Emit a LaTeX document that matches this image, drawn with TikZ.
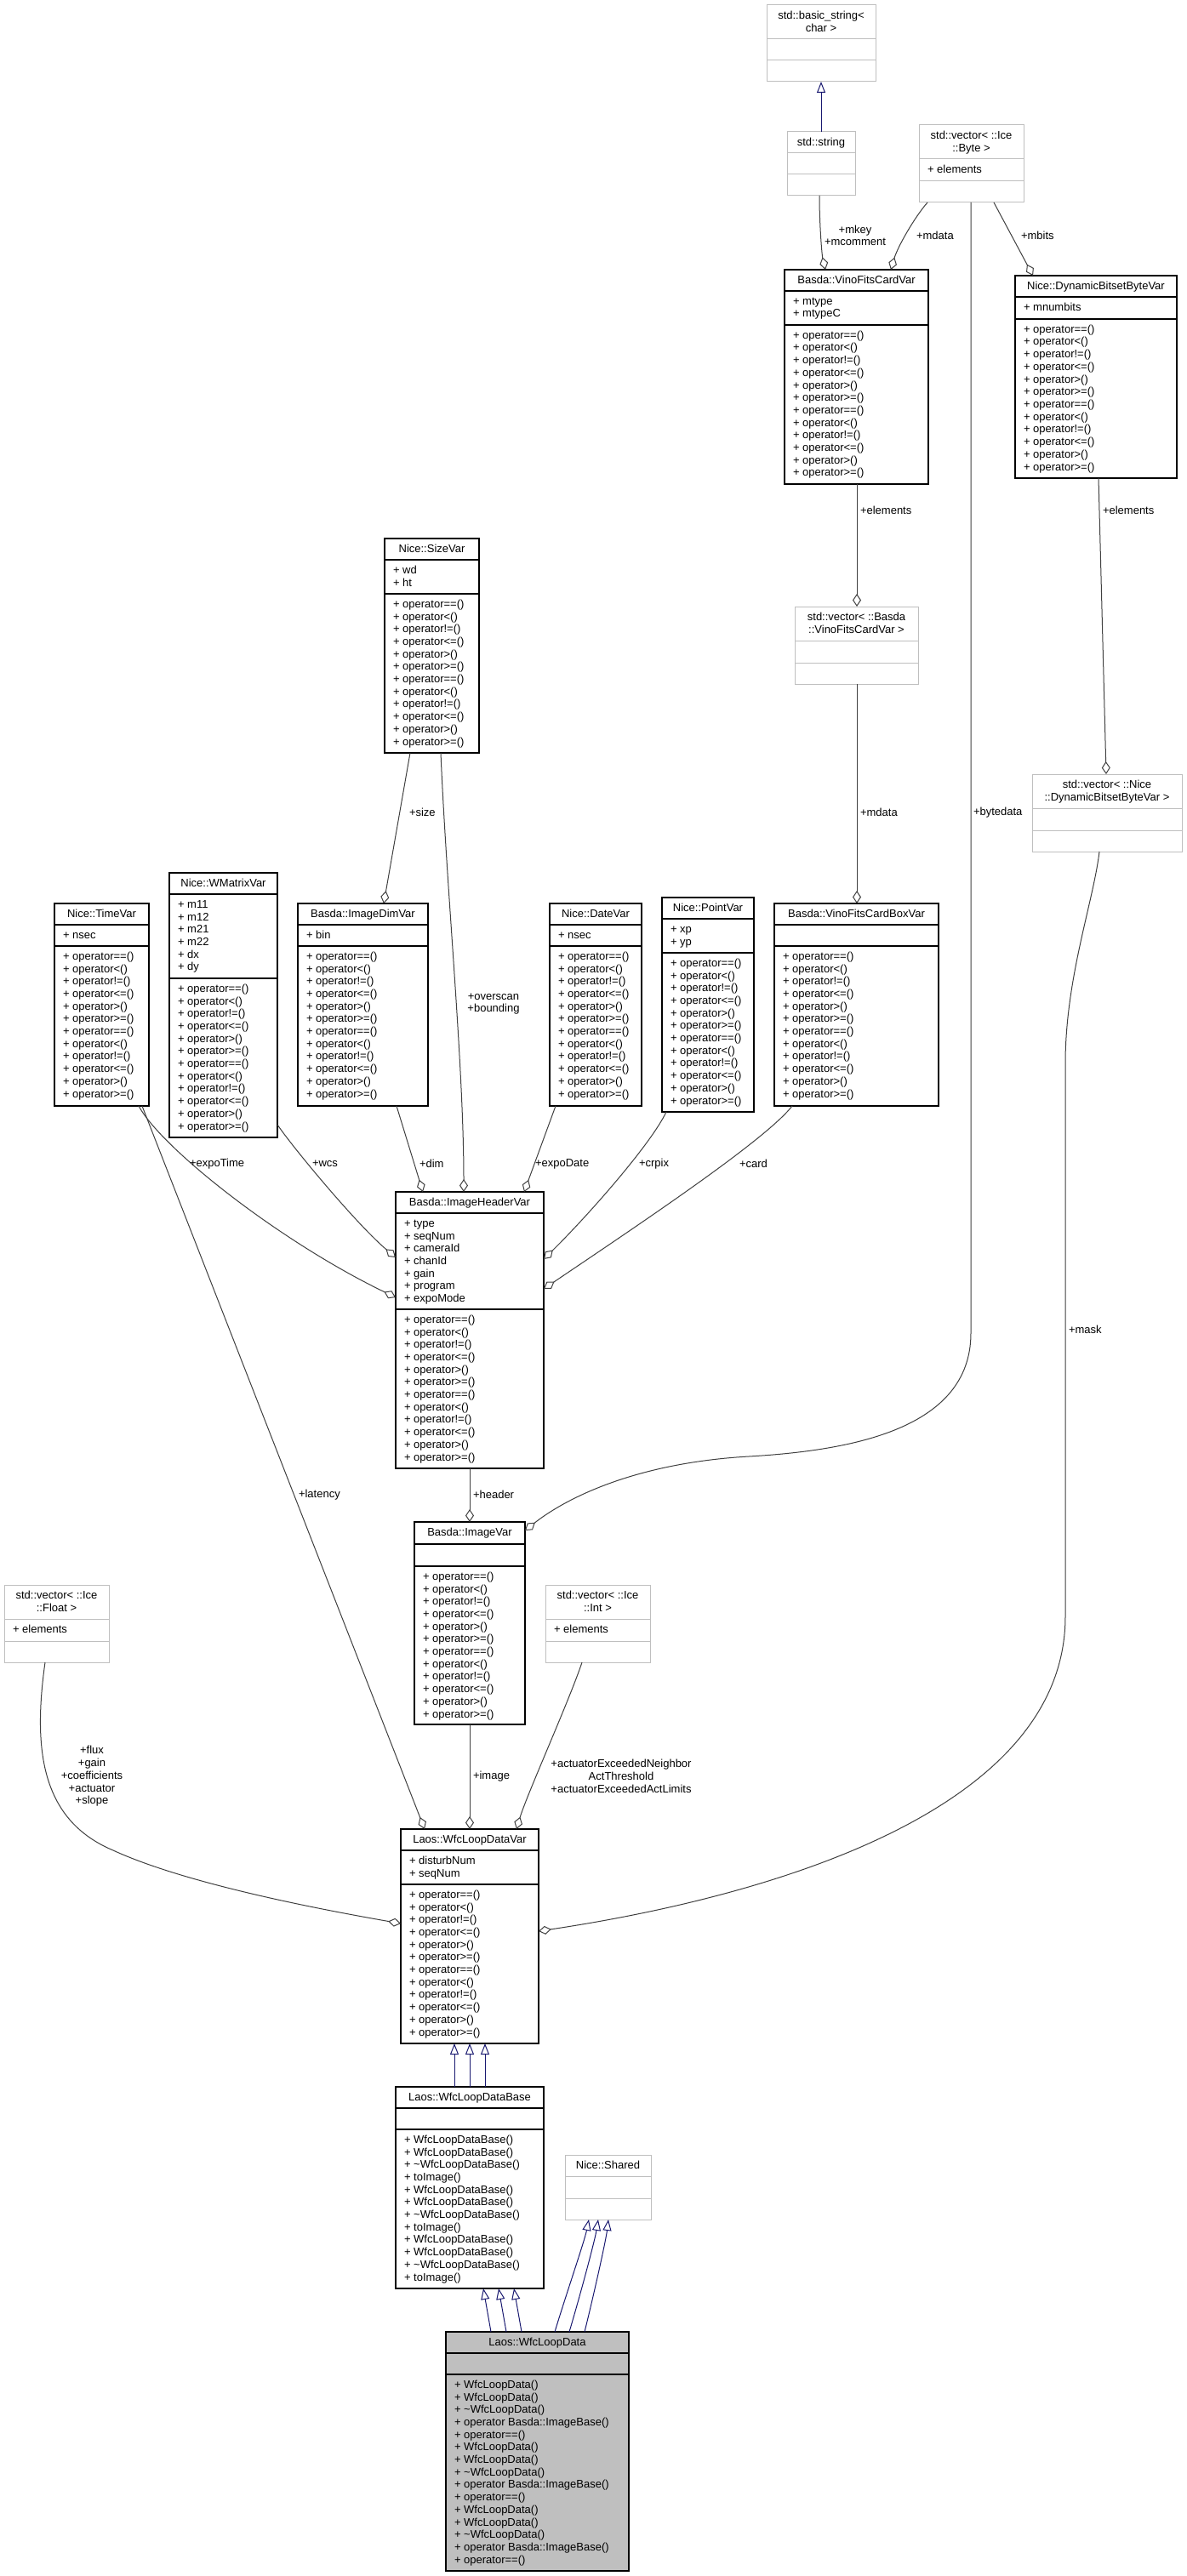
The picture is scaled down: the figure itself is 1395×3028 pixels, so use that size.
\documentclass[tikz,border=0pt]{standalone}
\usepackage{fontspec}
\setmainfont{Liberation Sans}
\usetikzlibrary{arrows.meta,calc}
\definecolor{edgec}{HTML}{404040}
\definecolor{inhc}{HTML}{191970}
\definecolor{grayb}{HTML}{BFBFBF}
\definecolor{selfill}{HTML}{BFBFBF}
\tikzset{
 txt/.style={inner sep=0,outer sep=0,font=\fontsize{6.5}{7.35}\selectfont,text=black},
 blk box/.style={draw=black,line width=0.6pt,fill=white},
 blk sep/.style={draw=black,line width=0.6pt},
 gry box/.style={draw=grayb,line width=0.5pt,fill=white},
 gry sep/.style={draw=grayb,line width=0.5pt},
 sel box/.style={draw=black,line width=0.6pt,fill=selfill},
 sel sep/.style={draw=black,line width=0.6pt},
 agg/.style={draw=edgec,line width=0.5pt,-{Diamond[open,length=7.5pt,width=5pt,line width=0.5pt]}},
 inh/.style={draw=inhc,line width=0.5pt,-{Triangle[open,length=6.5pt,width=5pt,line width=0.5pt]}},
 lbl/.style={txt},
}
% #1 name, #2 style, #3 x, #4 y, #5 w, #6 h1, #7 h2, #8 h3, #9 title list (double braces)
\newcommand\umlbox[9]{%
 \node[#2 box,anchor=north west,inner sep=0,outer sep=0,minimum width={#5*0.5pt},minimum height={(#6+#7+#8)*0.5pt}] (#1) at (#3,#4) {};
 \draw[#2 sep] (#3,#4+#6) -- (#3+#5,#4+#6);
 \draw[#2 sep] (#3,#4+#6+#7) -- (#3+#5,#4+#6+#7);
 \coordinate (#1-a) at (#3+10,#4+#6+16.3);
 \coordinate (#1-m) at (#3+10,#4+#6+#7+16.3);
 \foreach \t [count=\i] in #9 {\node[txt,anchor=base] (#1-t\i) at ({#3+#5/2},{#4+16.5+14.7*(\i-1)}) {\t};}
}
\newcommand\umlrows[3]{%
 \foreach \t [count=\i] in #3 {\node[txt,anchor=base west] (#1-#2\i) at ($(#1-#2)+(0,{14.7*(\i-1)})$) {\t};}
}
\def\ops{+ operator==(),+ operator<(),+ operator!=(),+ operator<=(),+ operator>(),+ operator>=(),+ operator==(),+ operator<(),+ operator!=(),+ operator<=(),+ operator>(),+ operator>=()}
\def\basem{+ WfcLoopDataBase(),+ WfcLoopDataBase(),+ \textasciitilde{}WfcLoopDataBase(),+ toImage(),+ WfcLoopDataBase(),+ WfcLoopDataBase(),+ \textasciitilde{}WfcLoopDataBase(),+ toImage(),+ WfcLoopDataBase(),+ WfcLoopDataBase(),+ \textasciitilde{}WfcLoopDataBase(),+ toImage()}
\def\wldm{+ WfcLoopData(),+ WfcLoopData(),+ \textasciitilde{}WfcLoopData(),+ operator Basda::ImageBase(),+ operator==(),+ WfcLoopData(),+ WfcLoopData(),+ \textasciitilde{}WfcLoopData(),+ operator Basda::ImageBase(),+ operator==(),+ WfcLoopData(),+ WfcLoopData(),+ \textasciitilde{}WfcLoopData(),+ operator Basda::ImageBase(),+ operator==()}
\begin{document}
\begin{tikzpicture}[x=0.5pt,y=-0.5pt]
\fill[white] (0,0) rectangle (1395,3028);
\useasboundingbox (0,0) rectangle (1395,3028);

% gray (external) classes
\umlbox{bstr}{gry}{901}{6}{128}{40}{25}{25}{{std::basic\_string<,char >}}
\umlbox{str}{gry}{925}{155}{80}{25}{25}{25}{{std::string}}
\umlbox{vbyte}{gry}{1080}{147}{123}{40}{26}{25}{{std::vector< ::Ice,::Byte >}}
\umlrows{vbyte}{a}{{+ elements}}
\umlbox{vvfcv}{gry}{934}{713}{145}{40}{26}{25}{{std::vector< ::Basda,::VinoFitsCardVar >}}
\umlbox{vdbbv}{gry}{1213}{910}{176}{40}{26}{25}{{std::vector< ::Nice,::DynamicBitsetByteVar >}}
\umlbox{vfloat}{gry}{5}{1863}{123}{40}{26}{25}{{std::vector< ::Ice,::Float >}}
\umlrows{vfloat}{a}{{+ elements}}
\umlbox{vint}{gry}{641}{1863}{123}{40}{26}{25}{{std::vector< ::Ice,::Int >}}
\umlrows{vint}{a}{{+ elements}}
\umlbox{shared}{gry}{664}{2533}{101}{25}{26}{25}{{Nice::Shared}}

% documented classes
\umlbox{vfcv}{blk}{922}{317}{169}{25}{40}{187}{{Basda::VinoFitsCardVar}}
\umlrows{vfcv}{a}{{+ mtype,+ mtypeC}}
\umlrows{vfcv}{m}{\ops}
\umlbox{dbbv}{blk}{1193}{324}{190}{25}{26}{187}{{Nice::DynamicBitsetByteVar}}
\umlrows{dbbv}{a}{{+ mnumbits}}
\umlrows{dbbv}{m}{\ops}
\umlbox{sizev}{blk}{452}{633}{111}{25}{40}{187}{{Nice::SizeVar}}
\umlrows{sizev}{a}{{+ wd,+ ht}}
\umlrows{sizev}{m}{\ops}
\umlbox{timev}{blk}{64}{1062}{111}{25}{25}{188}{{Nice::TimeVar}}
\umlrows{timev}{a}{{+ nsec}}
\umlrows{timev}{m}{\ops}
\umlbox{wmat}{blk}{199}{1026}{127}{25}{99}{187}{{Nice::WMatrixVar}}
\umlrows{wmat}{a}{{+ m11,+ m12,+ m21,+ m22,+ dx,+ dy}}
\umlrows{wmat}{m}{\ops}
\umlbox{idim}{blk}{350}{1062}{153}{25}{25}{188}{{Basda::ImageDimVar}}
\umlrows{idim}{a}{{+ bin}}
\umlrows{idim}{m}{\ops}
\umlbox{datev}{blk}{646}{1062}{108}{25}{25}{188}{{Nice::DateVar}}
\umlrows{datev}{a}{{+ nsec}}
\umlrows{datev}{m}{\ops}
\umlbox{pointv}{blk}{778}{1055}{108}{25}{40}{187}{{Nice::PointVar}}
\umlrows{pointv}{a}{{+ xp,+ yp}}
\umlrows{pointv}{m}{\ops}
\umlbox{vfcbv}{blk}{910}{1062}{193}{25}{25}{188}{{Basda::VinoFitsCardBoxVar}}
\umlrows{vfcbv}{m}{\ops}
\umlbox{ihv}{blk}{465}{1401}{174}{25}{113}{187}{{Basda::ImageHeaderVar}}
\umlrows{ihv}{a}{{+ type,+ seqNum,+ cameraId,+ chanId,+ gain,+ program,+ expoMode}}
\umlrows{ihv}{m}{\ops}
\umlbox{imgv}{blk}{487}{1789}{130}{26}{26}{186}{{Basda::ImageVar}}
\umlrows{imgv}{m}{\ops}
\umlbox{wldv}{blk}{471}{2150}{162}{25}{40}{187}{{Laos::WfcLoopDataVar}}
\umlrows{wldv}{a}{{+ disturbNum,+ seqNum}}
\umlrows{wldv}{m}{\ops}
\umlbox{wldb}{blk}{465}{2453}{174}{25}{25}{187}{{Laos::WfcLoopDataBase}}
\umlrows{wldb}{m}{\basem}
\umlbox{wld}{sel}{524}{2741}{215}{25}{25}{231}{{Laos::WfcLoopData}}
\umlrows{wld}{m}{\wldm}

% inheritance
\draw[inh] ($(str.north west)+(40,0)$) -- ($(bstr.south west)+(64,0)$);
\foreach \k in {0,1,2} {
 \draw[inh] ($(wldb.north west)+({69+18*\k},0)$) -- ($(wldv.south west)+({63+18*\k},0)$);
 \draw[inh] ($(wld.north west)+({53+18*\k},0)$) -- ($(wldb.south west)+({103+18*\k},0)$);
}
\draw[inh] ($(wld.north west)+(128,0)$) .. controls +(12,-40) and +(-5,25) .. ($(shared.south west)+(28,0)$);
\draw[inh] ($(wld.north west)+(145,0)$) .. controls +(12,-40) and +(-4,25) .. ($(shared.south west)+(39,0)$);
\draw[inh] ($(wld.north west)+(163,0)$) .. controls +(10,-40) and +(-3,25) .. ($(shared.south west)+(51,0)$);

% aggregation connectors
\draw[agg] ($(str.south west)+(38,0)$) .. controls +(0,35) and +(-4,-17) .. ($(vfcv.north west)+(48,0)$);
\node[lbl,align=center] (l-mkey) at (1005,277) {+mkey\\+mcomment};
\draw[agg] ($(vbyte.south west)+(10,0)$) .. controls +(-15,17) and +(8,-27) .. ($(vfcv.north west)+(125,0)$);
\node[lbl,anchor=west] (l-mdata1) at (1077,277) {+mdata};
\draw[agg] ($(vbyte.south west)+(88,0)$) -- ($(dbbv.north west)+(21,0)$);
\node[lbl,anchor=west] (l-mbits) at (1200,277) {+mbits};
\coordinate (bd1) at (1141,1567);
\coordinate (bd2) at (880,1712);
\draw[agg] ($(vbyte.south west)+(61,0)$) -- (bd1) .. controls (1141,1680) and (1000,1705) .. (bd2) .. controls (740,1720) and (660,1765) .. ($(imgv.north east)+(0,10)$);
\node[lbl,anchor=west] (l-bytedata) at (1144,955) {+bytedata};
\draw[agg] ($(vfcv.south west)+(85,0)$) -- ($(vvfcv.north west)+(73,0)$);
\node[lbl,anchor=west] (l-el1) at (1011,600) {+elements};
\draw[agg] ($(dbbv.south west)+(98,0)$) -- ($(vdbbv.north west)+(87,0)$);
\node[lbl,anchor=west] (l-el2) at (1296,600) {+elements};
\draw[agg] ($(vvfcv.south west)+(73,0)$) -- ($(vfcbv.north west)+(97,0)$);
\node[lbl,anchor=west] (l-mdata2) at (1011,955) {+mdata};
\coordinate (mk1) at (1252,1250);
\coordinate (mk2) at (1252,1900);
\draw[agg] ($(vdbbv.south west)+(79,0)$) .. controls (1285,1060) and (1252,1150) .. (mk1) -- (mk2) .. controls (1252,2130) and (900,2230) .. ($(wldv.north east)+(0,120)$);
\node[lbl,anchor=west] (l-mask) at (1256,1563) {+mask};
\draw[agg] ($(sizev.south west)+(30,0)$) -- ($(idim.north west)+(101,0)$);
\node[lbl,anchor=west] (l-size) at (481,955) {+size};
\draw[agg] ($(sizev.south west)+(66,0)$) .. controls +(7,165) and +(0,-150) .. ($(ihv.north west)+(80,0)$);
\node[lbl,align=center] (l-overscan) at (580,1180) {+overscan\\+bounding};
\draw[agg] ($(timev.south west)+(99,0)$) .. controls (190,1350) and (330,1460) .. ($(ihv.north west)+(0,124)$);
\node[lbl,anchor=west] (l-expotime) at (223,1368) {+expoTime};
\draw[agg] ($(wmat.north east)+(0,296)$) .. controls (345,1350) and (420,1440) .. ($(ihv.north west)+(0,77)$);
\node[lbl,anchor=west] (l-wcs) at (367,1368) {+wcs};
\draw[agg] ($(idim.south west)+(116,0)$) -- ($(ihv.north west)+(32,0)$);
\node[lbl,anchor=west] (l-dim) at (493,1368) {+dim};
\draw[agg] ($(datev.south west)+(7,0)$) -- ($(ihv.north west)+(151,0)$);
\node[lbl,anchor=west] (l-expodate) at (629,1368) {+expoDate};
\draw[agg] ($(pointv.south west)+(5,0)$) .. controls (765,1345) and (690,1430) .. ($(ihv.north east)+(0,79)$);
\node[lbl,anchor=west] (l-crpix) at (751,1368) {+crpix};
\draw[agg] ($(vfcbv.south west)+(21,0)$) .. controls (900,1340) and (750,1440) .. ($(ihv.north east)+(0,114)$);
\node[lbl,anchor=west] (l-card) at (869,1368) {+card};
\draw[agg] ($(timev.south west)+(103,0)$) -- ($(wldv.north west)+(28,0)$);
\node[lbl,anchor=west] (l-latency) at (351,1757) {+latency};
\draw[agg] (ihv.south) -- (imgv.north);
\node[lbl,anchor=west] (l-header) at (556,1757) {+header};
\draw[agg] (imgv.south) -- (wldv.north);
\node[lbl,anchor=west] (l-image) at (556,2088) {+image};
\coordinate (fx1) at (133,2175);
\draw[agg] ($(vfloat.south west)+(48,0)$) .. controls (38,2060) and (50,2140) .. (fx1) .. controls (220,2215) and (380,2245) .. ($(wldv.north west)+(0,111)$);
\node[lbl,align=center] (l-flux) at (108,2088) {+flux\\+gain\\+coefficients\\+actuator\\+slope};
\draw[agg] ($(vint.south west)+(43,0)$) .. controls +(-15,45) and +(12,-40) .. ($(wldv.north west)+(136,0)$);
\node[lbl,align=center] (l-act) at (730,2088) {+actuatorExceededNeighbor\\ActThreshold\\+actuatorExceededActLimits};
\end{tikzpicture}
\end{document}
